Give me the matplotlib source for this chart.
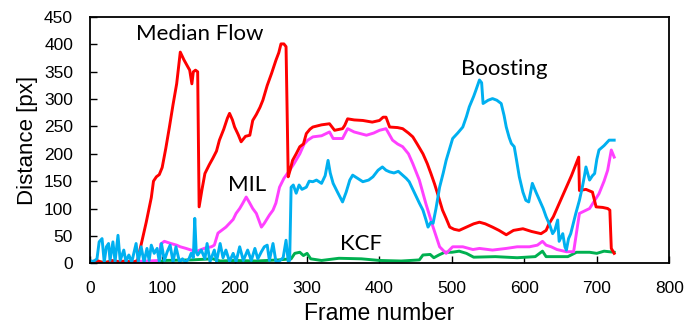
import numpy as np
import matplotlib.pyplot as plt

# values: (frame, distance in px)
red_frames = [0, 10, 20, 30, 40, 50, 60, 66, 72, 78, 85, 88, 92, 96, 100, 105, 110, 115, 120, 125,
              130, 135, 138, 141, 143, 146, 149, 151, 155, 159, 165, 170, 175, 179, 185, 190, 193, 197,
              200, 205, 209, 215, 221, 225, 230, 235, 239, 245, 251, 257, 261, 264, 268, 271, 274, 277,
              280, 285, 290, 295, 299, 304, 308, 320, 331, 338, 349, 352, 356, 365, 377, 390, 400, 405,
              409, 414, 425, 432, 440, 446, 452, 460, 466, 471, 476, 480, 487, 492, 497, 503, 510, 520,
              530, 538, 546, 556, 565, 575, 585, 598, 610, 623, 630, 634, 640, 644, 650, 658, 665, 675,
              676, 685, 694, 699, 708, 715, 718, 720, 724]
red_vals = [2, 5, 0, 5, 3, 4, 2, 5, 40, 75, 120, 150, 158, 162, 175, 210, 249, 290, 328, 386,
            372, 360, 353, 328, 350, 353, 350, 103, 135, 164, 180, 192, 205, 225, 245, 265, 274, 262,
            249, 235, 222, 232, 234, 261, 272, 285, 298, 325, 347, 371, 385, 401, 401, 396, 158, 172,
            188, 200, 213, 218, 237, 245, 249, 253, 255, 243, 246, 252, 264, 262, 261, 258, 261, 267,
            267, 249, 248, 246, 238, 231, 218, 200, 182, 164, 145, 128, 97, 82, 66, 62, 60, 66,
            72, 75, 72, 66, 60, 52, 60, 63, 58, 54, 60, 72, 85, 97, 115, 139, 160, 194,
            133, 135, 130, 103, 102, 100, 97, 27, 18]

mil_frames = [0, 20, 40, 60, 80, 96, 98, 103, 112, 120, 125, 133, 140, 147, 152, 160, 168, 172, 177,
              182, 188, 193, 198, 202, 207, 211, 216, 220, 225, 230, 237, 241, 248, 253, 257, 262, 268,
              276, 282, 290, 296, 301, 308, 320, 331, 336, 349, 356, 365, 382, 392, 400, 409, 418, 425,
              432, 440, 446, 455, 464, 474, 483, 492, 501, 515, 529, 538, 556, 575, 590, 607, 618, 625,
              630, 637, 645, 658, 668, 676, 690, 703, 710, 715, 720, 724]
mil_vals = [2, 0, 2, 3, 4, 5, 35, 40, 36, 33, 30, 27, 24, 21, 24, 28, 30, 33, 55,
            60, 66, 73, 80, 91, 100, 109, 121, 112, 100, 91, 66, 73, 88, 97, 110, 139, 155,
            170, 182, 200, 218, 225, 231, 233, 240, 228, 228, 246, 240, 234, 238, 243, 246, 225, 218,
            213, 200, 182, 152, 109, 66, 30, 18, 30, 30, 25, 27, 24, 27, 30, 30, 33, 40,
            33, 30, 25, 21, 21, 91, 100, 127, 150, 170, 207, 194]

boost_frames = [0, 5, 10, 13, 17, 20, 23, 26, 28, 32, 35, 39, 42, 47, 50, 54, 58, 64, 67, 71, 75, 79,
                82, 85, 89, 93, 96, 99, 103, 107, 111, 115, 119, 124, 128, 132, 137, 140, 143, 145,
                147, 149, 154, 159, 162, 166, 172, 175, 180, 184, 188, 193, 198, 202, 207, 212, 218,
                223, 228, 232, 237, 241, 245, 248, 253, 257, 261, 267, 271, 274, 276, 278, 281, 285,
                289, 293, 299, 303, 308, 313, 320, 325, 329, 332, 336, 342, 349, 354, 359, 363, 370,
                377, 385, 391, 398, 404, 409, 414, 420, 426, 432, 437, 441, 446, 451, 455, 460, 464,
                467, 471, 474, 478, 483, 488, 492, 497, 501, 508, 515, 520, 524, 530, 533, 538, 541,
                543, 550, 556, 562, 568, 572, 575, 579, 582, 586, 589, 593, 598, 602, 606, 611, 616,
                621, 626, 630, 635, 639, 642, 646, 648, 653, 656, 658, 661, 664, 668, 671, 676, 680,
                683, 685, 690, 694, 697, 700, 703, 710, 717, 724]
boost_vals = [5, 3, 8, 39, 45, 2, 30, 36, 5, 39, 3, 51, 5, 24, 3, 15, 2, 36, 3, 30, 2, 27,
              5, 33, 18, 27, 3, 36, 5, 21, 33, 2, 30, 2, 8, 2, 8, 18, 10, 82,
              20, 15, 24, 8, 36, 3, 24, 3, 36, 10, 24, 3, 18, 3, 30, 5, 24,
              5, 27, 8, 21, 30, 33, 5, 36, 3, 3, 10, 42, 3, 5, 139, 143, 128,
              143, 135, 139, 150, 149, 152, 146, 160, 188, 165, 146, 130, 112, 130, 152, 161, 155,
              149, 152, 158, 170, 176, 170, 167, 165, 168, 161, 155, 149, 135, 121, 110, 97, 80,
              66, 75, 73, 100, 139, 165, 188, 210, 228, 238, 249, 268, 286, 305, 316, 335, 330,
              292, 298, 301, 298, 292, 270, 249, 230, 219, 213, 190, 158, 130, 115, 112, 146, 130,
              115, 100, 85, 70, 54, 60, 79, 40, 54, 30, 24, 45, 54, 75, 91, 115, 139,
              160, 176, 152, 160, 164, 190, 207, 215, 225, 225]

kcf_frames = [0, 50, 100, 101, 140, 170, 180, 200, 230, 260, 278, 283, 290, 295, 300, 305, 320, 344,
              375, 400, 430, 455, 460, 470, 475, 482, 490, 500, 510, 520, 530, 560, 590, 615, 625,
              630, 660, 672, 690, 700, 710, 724]
kcf_vals = [2, 2, 3, 5, 6, 8, 4, 5, 4, 6, 8, 18, 20, 14, 18, 8, 5, 9,
            8, 5, 4, 6, 15, 16, 10, 15, 20, 20, 22, 18, 11, 12, 10, 12, 22,
            12, 12, 20, 20, 18, 22, 20]

series_names = ["Median Flow", "MIL", "Boosting", "KCF"]
label_pos = [(152, 420), (217, 143), (572, 356), (374, 36)]

label_font = ["Lato", "DejaVu Sans"]
axis_font = ["Liberation Sans", "DejaVu Sans"]

fig = plt.figure(figsize=(6.85, 3.29), dpi=100)
ax = fig.add_axes([0.131, 0.2, 0.846, 0.748])

lw = 2.1
ax.plot(kcf_frames, kcf_vals, color="#00B050", lw=lw)
ax.plot(mil_frames, mil_vals, color="#FF40FF", lw=lw)
ax.plot(red_frames, red_vals, color="#FF0000", lw=lw)
ax.plot(boost_frames, boost_vals, color="#00B0F0", lw=lw)

for name, (x, y) in zip(series_names, label_pos):
    ax.text(x, y, name, ha="center", va="center", fontsize=16, family=label_font)

ax.set_xlim(0, 800)
ax.set_ylim(0, 450)
ax.set_xticks(np.arange(0, 801, 100))
ax.set_yticks(np.arange(0, 451, 50))
ax.tick_params(direction="in", length=5, width=1, labelsize=12.5)
ax.tick_params(axis="x", pad=13)
ax.tick_params(axis="y", pad=12)
for lab in ax.get_xticklabels() + ax.get_yticklabels():
    lab.set_family(axis_font)
for sp in ax.spines.values():
    sp.set_linewidth(1.3)

ax.set_xlabel("Frame number", fontsize=16.5, family=axis_font, labelpad=4)
ax.set_ylabel("Distance [px]", fontsize=16, family=axis_font, labelpad=4)

fig.savefig("out.png", dpi=100)
